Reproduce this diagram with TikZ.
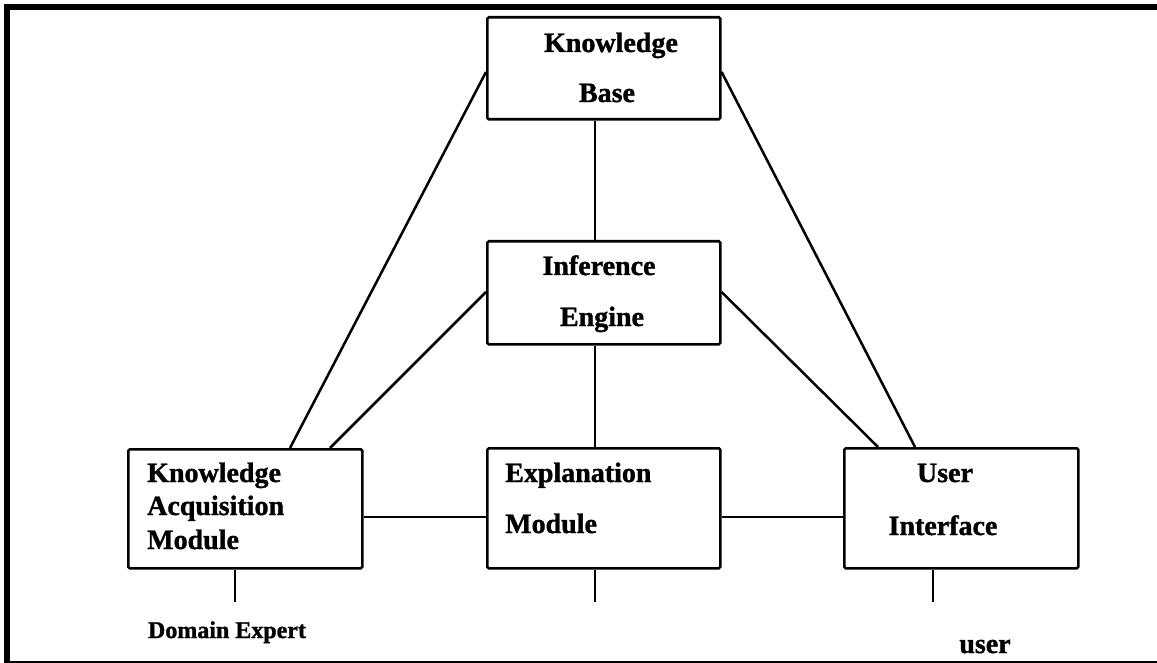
\documentclass[tikz,border=0pt]{standalone}
\usepackage{fontspec}
\setmainfont{Liberation Serif}[BoldFeatures={FakeBold=1.2}]
\usetikzlibrary{calc}
\begin{document}
\begin{tikzpicture}[x=1pt,y=-1pt,
  box/.style={draw, line width=2.6pt, rounded corners=1.5pt, inner sep=0pt, anchor=north west},
  lbl/.style={font=\fontsize{28}{34}\selectfont\bfseries, inner sep=0pt, anchor=base},
  lbll/.style={lbl, anchor=base west},
  conn/.style={line width=2.5pt},
  frame/.style={line width=6pt}]
\useasboundingbox (0,0) rectangle (1157,663);
% frame (top and left thick, bottom thin, no right side)
\coordinate (ftl) at (7,7);
\coordinate (ftr) at (1157,7);
\coordinate (fbl) at (7,663);
\coordinate (bl) at (4,661.5);
\coordinate (br) at (1157,661.5);
\draw[frame, line cap=rect] (ftr) -- (ftl) -- (fbl);
\draw[line width=2pt] (bl) -- (br);
% boxes
\node[box, minimum width=233pt, minimum height=102pt] (kb) at (486,16) {};
\node[box, minimum width=233pt, minimum height=103pt] (ie) at (486,240) {};
\node[box, minimum width=234pt, minimum height=119pt] (kam) at (127,448) {};
\node[box, minimum width=233pt, minimum height=120pt] (em) at (486,447) {};
\node[box, minimum width=234pt, minimum height=120pt] (ui) at (843,447) {};
% texts
\node[lbl] (kb1) at (611,52) {Knowledge};
\node[lbl] (kb2) at (607,102) {Base};
\node[lbl] (ie1) at (599,275) {Inference};
\node[lbl] (ie2) at (602,326) {Engine};
\node[lbll] (kam1) at (147,482) {Knowledge};
\node[lbll] (kam2) at (147,515) {Acquisition};
\node[lbll] (kam3) at (147,549) {Module};
\node[lbll] (em1) at (505,482) {Explanation};
\node[lbll] (em2) at (505,533) {Module};
\node[lbl] (ui1) at (945,482) {User};
\node[lbl] (ui2) at (943,535) {Interface};
\node[lbl, font=\fontsize{24}{28}\selectfont\bfseries] (de) at (227,638) {Domain Expert};
\node[lbl] (us) at (985,653) {user};
% helper coordinates
\coordinate (cx) at (595,0);
\coordinate (row) at (0,517);
\coordinate (sk) at (235,602);
\coordinate (se) at (595,602);
\coordinate (su) at (933,602);
% connectors
\draw[conn] (kb.south -| cx) -- (ie.north -| cx);
\draw[conn] (ie.south -| cx) -- (em.north -| cx);
\draw[conn] ($(kb.north west)+(0,56)$) -- ($(kam.north west)+(163,0)$);
\draw[conn] ($(ie.north west)+(0,52)$) -- ($(kam.north west)+(203,0)$);
\draw[conn] ($(kb.north east)+(0,56)$) -- ($(ui.north west)+(72,0)$);
\draw[conn] ($(ie.north east)+(0,52)$) -- ($(ui.north west)+(35,0)$);
\draw[conn] (kam.east |- row) -- (em.west |- row);
\draw[conn] (em.east |- row) -- (ui.west |- row);
\draw[conn] (kam.south -| sk) -- (sk);
\draw[conn] (em.south -| se) -- (se);
\draw[conn] (ui.south -| su) -- (su);
\end{tikzpicture}
\end{document}
